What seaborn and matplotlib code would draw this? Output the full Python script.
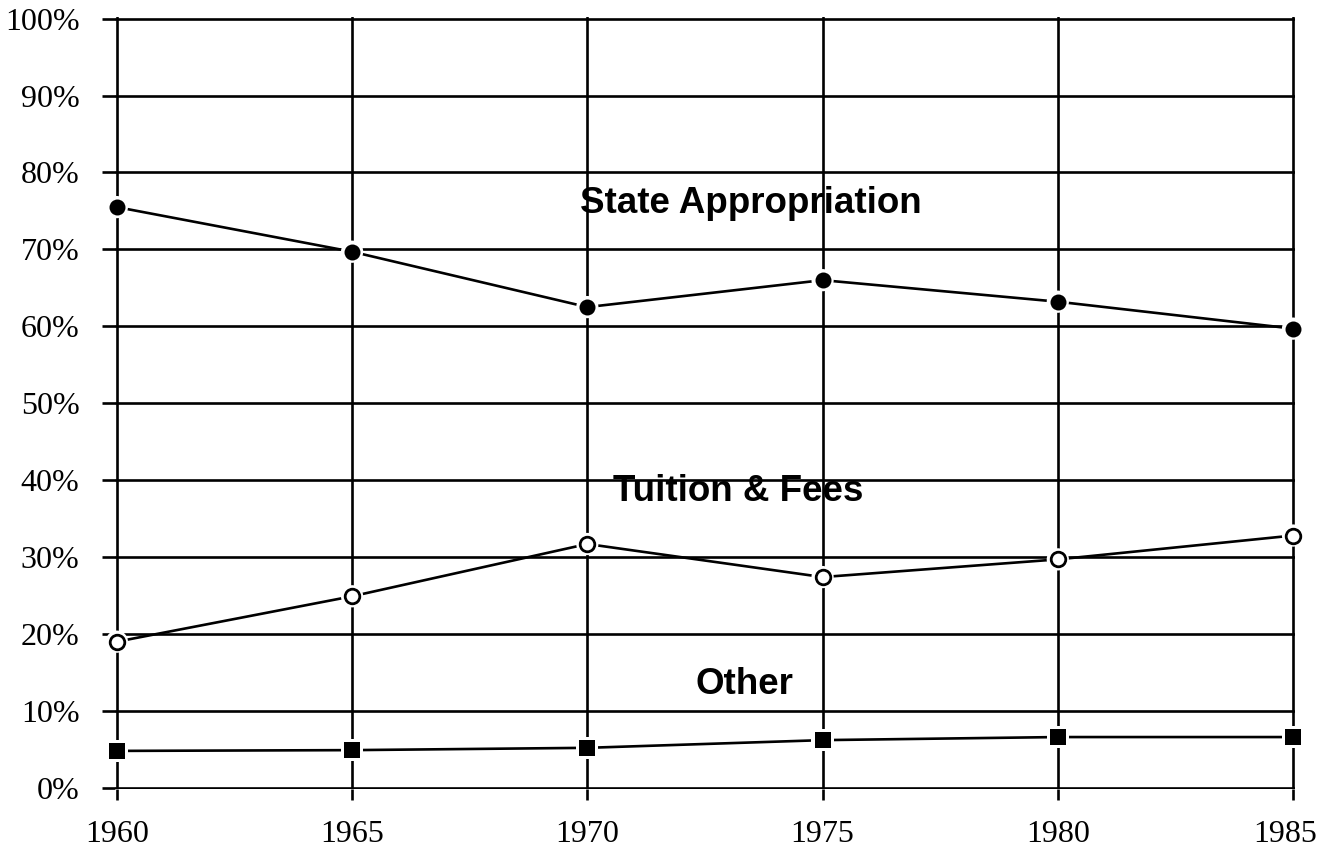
import matplotlib
matplotlib.use("Agg")
import matplotlib.pyplot as plt
import matplotlib.transforms as mtransforms
import seaborn as sns
import pandas as pd
from matplotlib.ticker import FuncFormatter

years = [1960, 1965, 1970, 1975, 1980, 1985]
state_appropriation = [75.5, 69.7, 62.5, 66.0, 63.2, 59.7]
tuition_fees = [19.0, 24.9, 31.7, 27.4, 29.7, 32.8]
other = [4.8, 4.9, 5.2, 6.2, 6.6, 6.6]
y_ticks = [0, 10, 20, 30, 40, 50, 60, 70, 80, 90, 100]

series_names = ["State Appropriation", "Tuition & Fees", "Other"]
series_values = [state_appropriation, tuition_fees, other]

sns.set_theme(style="white")
plt.rcParams["font.family"] = ["Liberation Serif", "DejaVu Serif"]

fig = plt.figure(figsize=(13.2, 8.49), dpi=100)
ax = fig.add_axes([0.0871, 0.0707, 0.981 - 0.0871, 0.9794 - 0.0707])

ax.set_xlim(1959.96, 1985.04)
ax.set_ylim(-0.15, 100.15)
ax.set_xticks(years)
ax.set_yticks(y_ticks)
ax.yaxis.set_major_formatter(FuncFormatter(lambda v, p: f"{int(round(v))}%"))
ax.grid(True, color="black", linewidth=1.9, zorder=0)
ax.set_axisbelow(True)
for s in ax.spines.values():
    s.set_visible(False)
ax.tick_params(axis="y", direction="out", length=9.5, width=1.9, color="black",
               pad=16, labelsize=23, labelcolor="black", left=True)
ax.tick_params(axis="x", direction="out", length=8, width=1.9, color="black",
               pad=14, labelsize=23, labelcolor="black", bottom=True)

markers = {"State Appropriation": ("o", "black", 11.5, 16),
           "Tuition & Fees": ("o", "white", 10.5, 16),
           "Other": ("s", "black", 11.3, 16)}

for name, vals in zip(series_names, series_values):
    df = pd.DataFrame({"year": years, "value": vals})
    sns.lineplot(data=df, x="year", y="value", ax=ax, color="black",
                 linewidth=1.9, zorder=3, legend=False)
    mk, fc, ms, halo = markers[name]
    sns.scatterplot(data=df, x="year", y="value", ax=ax, marker=mk,
                    s=halo ** 2, color="white", edgecolor="none", zorder=4,
                    legend=False, clip_on=False)
    sns.scatterplot(data=df, x="year", y="value", ax=ax, marker=mk,
                    s=ms ** 2, color=fc, edgecolor="black",
                    linewidth=2.0 if fc == "white" else 0, zorder=5,
                    legend=False, clip_on=False)

ax.set_xlabel("")
ax.set_ylabel("")

fig.canvas.draw()
last = ax.get_xticklabels()[-1]
last.set_transform(last.get_transform() +
                   mtransforms.ScaledTranslation(-8 / 100, 0, fig.dpi_scale_trans))

label_font = dict(family=["Liberation Sans", "DejaVu Sans"], fontweight="bold",
                  fontsize=26.5, color="black", ha="center", va="baseline", zorder=6)
ax.text(1973.47, 74.7, "State Appropriation", **label_font)
ax.text(1973.21, 37.3, "Tuition & Fees", **label_font)
ax.text(1973.35, 12.2, "Other", **label_font)

fig.savefig("out.png", dpi=100, facecolor="white")
